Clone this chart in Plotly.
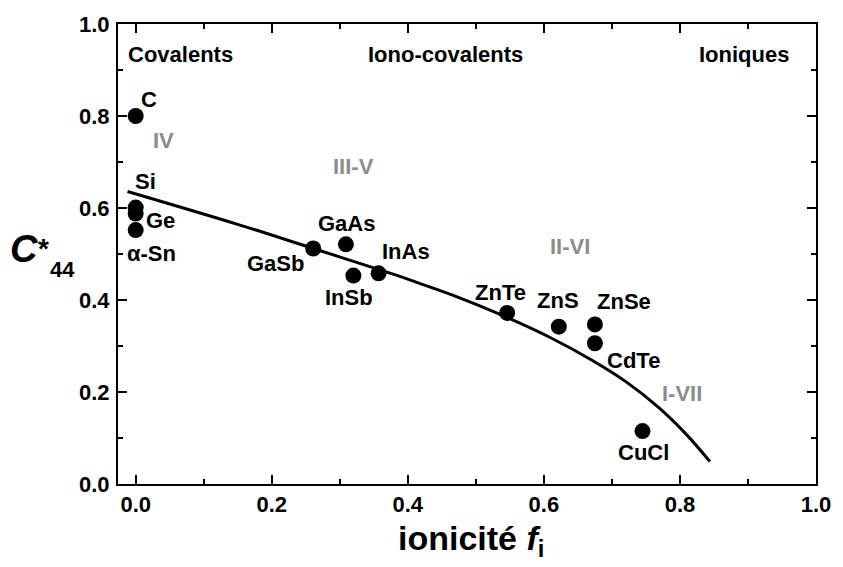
import plotly.graph_objects as go

# ---------------- data ----------------
materials = ["C", "Si", "Ge", "α-Sn", "GaSb", "GaAs", "InSb", "InAs",
             "ZnTe", "ZnS", "ZnSe", "CdTe", "CuCl"]
ionicity = [0.0, 0.0, 0.0, 0.0, 0.261, 0.309, 0.320, 0.357,
            0.546, 0.622, 0.675, 0.675, 0.745]
c44_star = [0.800, 0.601, 0.588, 0.552, 0.512, 0.521, 0.453, 0.458,
            0.372, 0.342, 0.347, 0.306, 0.115]

curve_x = [-0.012, 0.151, 0.261, 0.383, 0.412, 0.465, 0.546, 0.610,
           0.672, 0.721, 0.769, 0.808, 0.844]
curve_y = [0.636, 0.564, 0.512, 0.454, 0.439, 0.411, 0.362, 0.318,
           0.268, 0.222, 0.166, 0.110, 0.049]

region_labels = ["Covalents", "Iono-covalents", "Ioniques"]
region_x = [0.066, 0.455, 0.8935]
region_y = [0.933, 0.933, 0.933]

group_labels = ["IV", "III-V", "II-VI", "I-VII"]
group_x = [0.041, 0.320, 0.639, 0.8025]
group_y = [0.746, 0.690, 0.517, 0.197]

x_ticks = [0.0, 0.2, 0.4, 0.6, 0.8, 1.0]
y_ticks = [0.0, 0.2, 0.4, 0.6, 0.8, 1.0]
tick_text = ["0.0", "0.2", "0.4", "0.6", "0.8", "1.0"]

# pixel offsets of each material label from its marker (dx right, dy down)
label_offsets = [(13, -17), (10, -26), (25, 7), (16, 23), (-38, 15), (1, -21),
                 (-4, 22), (27, -22), (-7, -20), (-1, -26), (29, -23),
                 (39, 17), (1, 21)]

FONT = "Liberation Sans, Arial, Helvetica, sans-serif"
GREY = "#8c8c8c"

fig = go.Figure()
fig.add_trace(go.Scatter(x=curve_x, y=curve_y, mode="lines",
                         line=dict(color="black", width=3, shape="spline", smoothing=1.0),
                         showlegend=False, hoverinfo="skip"))
fig.add_trace(go.Scatter(x=ionicity, y=c44_star, mode="markers",
                         marker=dict(color="black", size=16),
                         text=materials, showlegend=False))

annotations = []
for name, xv, yv, (dx, dy) in zip(materials, ionicity, c44_star, label_offsets):
    annotations.append(dict(x=xv, y=yv, xref="x", yref="y", text=name,
                            showarrow=False, xshift=dx, yshift=-dy,
                            xanchor="center", yanchor="middle",
                            font=dict(family=FONT, size=22, color="black", weight="bold")))
for name, xv, yv in zip(region_labels, region_x, region_y):
    annotations.append(dict(x=xv, y=yv, xref="x", yref="y", text=name,
                            showarrow=False, xanchor="center", yanchor="middle",
                            font=dict(family=FONT, size=22, color="black", weight="bold")))
for name, xv, yv in zip(group_labels, group_x, group_y):
    annotations.append(dict(x=xv, y=yv, xref="x", yref="y", text=name,
                            showarrow=False, xanchor="center", yanchor="middle",
                            font=dict(family=FONT, size=22, color=GREY, weight="bold")))

# y-axis title C*44
annotations.append(dict(x=-0.134, y=0.510, xref="paper", yref="paper", text="<i>C</i>",
                        showarrow=False, xanchor="center", yanchor="middle",
                        font=dict(family=FONT, size=38, color="black", weight="bold")))
annotations.append(dict(x=-0.1066, y=0.512, xref="paper", yref="paper", text="*",
                        showarrow=False, xanchor="center", yanchor="middle",
                        font=dict(family=FONT, size=28, color="black", weight="bold")))
annotations.append(dict(x=-0.0798, y=0.4656, xref="paper", yref="paper", text="44",
                        showarrow=False, xanchor="center", yanchor="middle",
                        font=dict(family=FONT, size=22, color="black", weight="bold")))
# x-axis title
annotations.append(dict(x=0.506, y=-0.072, xref="paper", yref="paper",
                        text="ionicité <i>f</i><sub>i</sub>",
                        showarrow=False, xanchor="center", yanchor="top",
                        font=dict(family=FONT, size=34, color="black", weight="bold")))

axis_common = dict(showline=True, linecolor="black", linewidth=2, mirror="ticks",
                   ticks="inside", ticklen=9, tickwidth=2, tickcolor="black",
                   showgrid=False, zeroline=False,
                   tickfont=dict(family=FONT, size=22, color="black", weight="bold"),
                   minor=dict(ticks="inside", ticklen=5, tickwidth=2, tickcolor="black",
                              dtick=0.1, showgrid=False))

fig.update_layout(
    width=843, height=567,
    margin=dict(l=118, r=17, t=19, b=83),
    paper_bgcolor="white", plot_bgcolor="white",
    xaxis=dict(range=[-0.026, 1.0], tickvals=x_ticks, ticktext=tick_text,
               ticklabelstandoff=0, **axis_common),
    yaxis=dict(range=[0.0, 1.0], tickvals=y_ticks, ticktext=tick_text,
               ticklabelstandoff=2, **axis_common),
    annotations=annotations,
    showlegend=False,
)

fig.write_html("out.html", config={"displayModeBar": False},
               post_script="document.body.style.margin='0';document.body.style.overflow='hidden';")
